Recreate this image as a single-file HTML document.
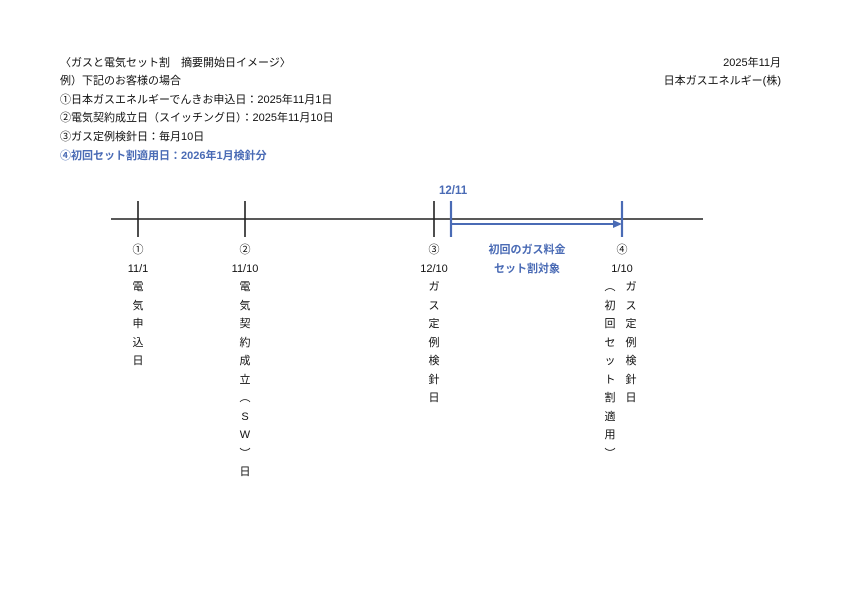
<!DOCTYPE html>
<html><head><meta charset="utf-8"><style>
body{margin:0;width:841px;height:595px;background:#fff;position:relative;overflow:hidden;font-family:"Liberation Sans","Noto Sans CJK JP",sans-serif;color:#111;font-size:11px}
.t{position:absolute;white-space:nowrap;line-height:14px}
.col{position:absolute;top:241px;width:60px;text-align:center;line-height:18.5px;font-size:11px}
.b{color:#4a6bb5;font-weight:bold}
</style></head><body>
<div class="t" style="left:60px;top:56px">〈ガスと電気セット割　摘要開始日イメージ〉</div>
<div class="t" style="left:60px;top:74px">例）下記のお客様の場合</div>
<div class="t" style="left:60px;top:93px">①日本ガスエネルギーでんきお申込日：2025年11月1日</div>
<div class="t" style="left:60px;top:111px">②電気契約成立日（スイッチング日）：2025年11月10日</div>
<div class="t" style="left:60px;top:130px">③ガス定例検針日：毎月10日</div>
<div class="t b" style="left:60px;top:149px">④初回セット割適用日：2026年1月検針分</div>
<div class="t" style="right:60px;top:56px">2025年11月</div>
<div class="t" style="right:60px;top:74px">日本ガスエネルギー(株)</div>
<svg style="position:absolute;left:0;top:0" width="841" height="595">
<line x1="111" y1="219" x2="703" y2="219" stroke="#222" stroke-width="1.6"/>
<line x1="138" y1="201" x2="138" y2="237" stroke="#222" stroke-width="1.6"/>
<line x1="245" y1="201" x2="245" y2="237" stroke="#222" stroke-width="1.6"/>
<line x1="434" y1="201" x2="434" y2="237" stroke="#222" stroke-width="1.6"/>
<line x1="451" y1="201" x2="451" y2="237" stroke="#4a6bb5" stroke-width="2.2"/>
<line x1="622" y1="201" x2="622" y2="237" stroke="#4a6bb5" stroke-width="2.2"/>
<line x1="451" y1="224" x2="614" y2="224" stroke="#4a6bb5" stroke-width="2"/>
<polygon points="622,224 613,220 613,228" fill="#4a6bb5"/>
</svg>
<div class="t b" style="left:439px;top:184px;font-size:11.5px">12/11</div>
<div class="col b" style="left:467px;width:120px">初回のガス料金<br>セット割対象</div>
<div class="col" style="left:108px">①<br>11/1<br>電<br>気<br>申<br>込<br>日</div>
<div class="col" style="left:215px">②<br>11/10<br>電<br>気<br>契<br>約<br>成<br>立<br>︵<br>S<br>W<br>︶<br>日</div>
<div class="col" style="left:404px">③<br>12/10<br>ガ<br>ス<br>定<br>例<br>検<br>針<br>日</div>
<div class="col" style="left:592px">④<br>1/10</div>
<div class="col" style="left:600px;top:278px;width:20px">︵<br>初<br>回<br>セ<br>ッ<br>ト<br>割<br>適<br>用<br>︶</div>
<div class="col" style="left:621px;top:278px;width:20px">ガ<br>ス<br>定<br>例<br>検<br>針<br>日</div>
</body></html>
